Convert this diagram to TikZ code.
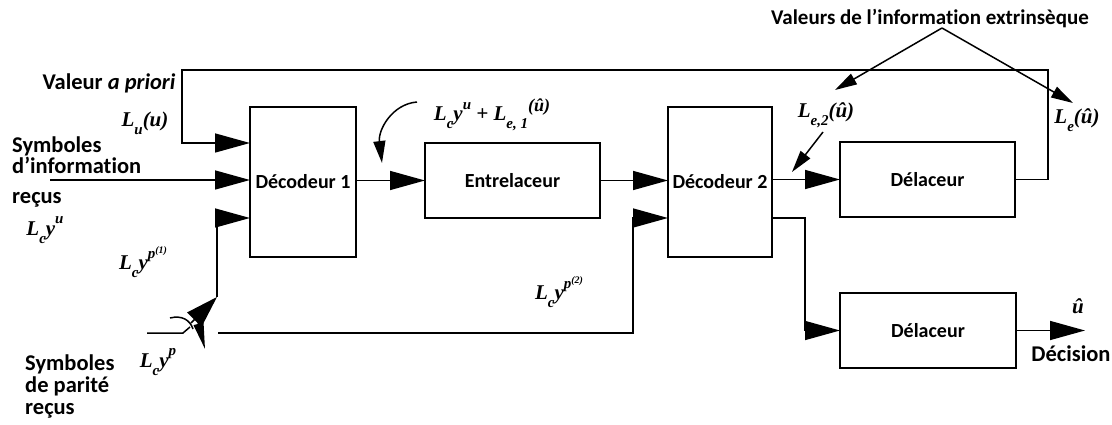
\documentclass[tikz,border=0pt]{standalone}
\usepackage{fontspec}
\setmainfont{Carlito}[Ligatures={TeX,NoCommon}]
\newfontfamily\mfont{Liberation Serif}
\usetikzlibrary{arrows.meta}
\newcommand\lsub[1]{\raisebox{-0.38em}{\fontsize{15}{15}\selectfont #1}}
\newcommand\lsup[1]{\raisebox{0.55em}{\fontsize{15}{15}\selectfont #1}}
\newcommand\lsupb[1]{\raisebox{0.45em}{\fontsize{18}{18}\selectfont #1}}
\newcommand\lsupp[1]{\raisebox{0.35em}{\fontsize{10}{10}\selectfont #1}}
\begin{document}
\begin{tikzpicture}[x=1pt,y=-1pt,
  box/.style={draw,line width=1.5pt,inner sep=0pt,outer sep=0pt,font=\fontsize{20}{20}\selectfont\bfseries},
  ln/.style={line width=1.5pt},
  ar/.style={line width=1.5pt,-{Triangle[length=35pt,width=19pt]}},
  thin ar/.style={line width=1.5pt,-{Triangle[length=22pt,width=12pt]}},
  lbl/.style={font=\fontsize{21}{25}\selectfont\bfseries,inner sep=0pt},
  big lbl/.style={font=\fontsize{22.5}{26}\selectfont\bfseries,inner sep=0pt},
  mth/.style={font=\mfont\fontsize{21}{25}\selectfont\bfseries\itshape,inner sep=0pt}]
\useasboundingbox (0,0) rectangle (1112,425);

% blocks
\node[box,minimum width=106pt,minimum height=150pt] (d1) at (303,182) {Décodeur 1};
\node[box,minimum width=175pt,minimum height=75pt] (ent) at (512.5,180.5) {Entrelaceur};
\node[box,minimum width=104pt,minimum height=150pt] (d2) at (720,182) {Décodeur 2};
\node[box,minimum width=175pt,minimum height=75pt] (del1) at (927.5,179.5) {Délaceur};
\node[box,minimum width=176pt,minimum height=75pt] (del2) at (928,330.5) {Délaceur};

% coordinates
\coordinate (tl) at (182,70);
\coordinate (tr) at (1048,70);
\coordinate (lu) at (182,143);
\coordinate (inf) at (50,180);
\coordinate (sw) at (217,297);
\coordinate (swa) at (191,323);
\coordinate (swb) at (205,349);
\coordinate (swc) at (197,318);
\coordinate (p1) at (217,218);
\coordinate (bl) at (218,333);
\coordinate (br) at (633,333);
\coordinate (p2) at (633,218);
\coordinate (o2) at (805,218);
\coordinate (dec) at (1085,330.5);
\coordinate (pl) at (147,333);
\coordinate (pk) at (183,333);
\coordinate (pk2) at (190,327);
\coordinate (cv1) at (170,318);
\coordinate (cv2) at (193,329);

% connectors
\draw[ar] (del1.east) -| (tr) -- (tl) -- (lu) -- (lu -| d1.west);
\draw[ar] (inf) -- (inf -| d1.west);
\draw[ar] (sw) -- (p1) -- (p1 -| d1.west);
\draw[ar] (d1.east |- ent.west) -- (ent.west);
\draw[ar] (ent.east) -- (ent.east -| d2.west);
\draw[ar] (bl) -- (br) -- (p2) -- (p2 -| d2.west);
\draw[ar] (d2.east |- del1.west) -- (del1.west);
\draw[ar] (d2.east |- o2) -- (o2) |- (del2.west);
\draw[ar] (del2.east) -- (dec);

% switch
\draw[line width=1.5pt,-{Triangle[length=32pt,width=20pt]}] (swa) -- (sw);
\draw[line width=1.5pt,-{Triangle[length=26pt,width=10pt]}] (swc) -- (swb);
\draw[ln] (pl) -- (pk) -- (pk2);
\draw[ln] (cv1) .. controls (182,315) and (190,320) .. (cv2);

% labels
\node[big lbl] (vap) at (109,83) {Valeur \textit{a priori}};
\node[mth] (lu lbl) at (145,123) {L\lsub{u}(u)};
\node[big lbl,align=left,anchor=north west] (syminf) at (12,137) {Symboles\\[-5pt]d'information\\[4pt]reçus};
\node[mth] (lcyu) at (45,230) {L\lsub{c}y\lsup{u}};
\node[mth] (lcyp1) at (143,262) {L\lsub{c}y\lsup{p\lsupp{(1)}}};
\node[mth] (lcyp) at (158,362) {L\lsub{c}y\lsup{p}};
\node[big lbl,align=left,anchor=north west] (sympar) at (25,355) {Symboles\\[-4pt]de parité\\[-4pt]reçus};
\node[mth] (lcyp2) at (559,292) {L\lsub{c}y\lsup{p\lsupp{(2)}}};
\node[mth] (lsum) at (492,115) {L\lsub{c}y\lsup{u} + L\lsub{e, 1}\lsupb{(û)}};
\node[mth] (le2) at (826,115) {L\lsub{e,2}(û)};
\node[mth] (le) at (1077,120) {L\lsub{e}(û)};
\node[mth] (uhat) at (1078,306) {û};
\node[big lbl] (decis) at (1071,354) {Décision};
\node[lbl] (title) at (930,19) {Valeurs de l'information extrinsèque};

% label arrows
\coordinate (apex) at (942,28);
\coordinate (t1) at (835,90);
\coordinate (t2) at (1073,103);
\draw[thin ar] (apex) -- (t1);
\draw[thin ar] (apex) -- (t2);
\coordinate (a1) at (823,132);
\coordinate (a2) at (792,172);
\draw[thin ar] (a1) -- (a2);
\coordinate (c1) at (417,102);
\coordinate (c2) at (382,163);
\draw[thin ar] (c1) .. controls (392,104) and (378,130) .. (c2);
\end{tikzpicture}
\end{document}
